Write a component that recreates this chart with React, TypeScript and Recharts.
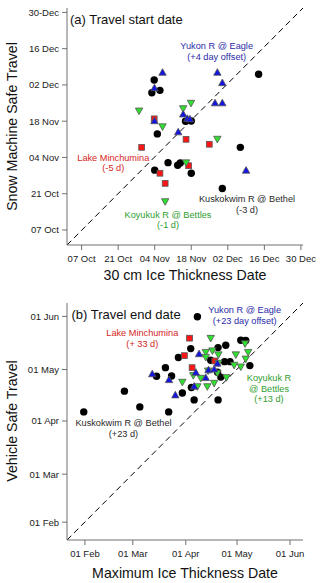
import React from "react";
import { ReferenceLine, Scatter, ScatterChart, XAxis, YAxis } from "recharts";

// (a) days counted from 30 Sep (1 Oct = 1); (b) day of year (1 Jan = 1)
const startTicks = [7, 21, 35, 49, 63, 77, 91];
const startXLabels = ["07 Oct", "21 Oct", "04 Nov", "18 Nov", "02 Dec", "16 Dec", "30 Dec"];
const startYLabels = ["07 Oct", "21 Oct", "04 Nov", "18 Nov", "02 Dec", "16 Dec", "30-Dec"];

const endTicks = [32, 60, 91, 121, 152];
const endLabels = ["01 Feb", "01 Mar", "01 Apr", "01 May", "01 Jun"];

const kuskokwimStart: [number, number][] = [
  [74.8, 67.1], [34.8, 64.9], [37, 60.9], [33.9, 60], [46.8, 49], [49, 49.1],
  [36, 44.1], [67.8, 38.9], [40.1, 33], [35, 30.1], [43.8, 32], [44.8, 32.9],
  [49, 28.9], [60.9, 23],
];
const minchuminaStart: [number, number][] = [
  [34.8, 49.9], [47, 42], [55.9, 40.1], [30, 38.9], [37, 28.9], [48, 31.8], [39, 25],
];
const koyukukStart: [number, number][] = [
  [29, 52.8], [48.9, 55.8], [45.9, 53.7], [38, 46.7], [59, 41.9], [47, 32.8], [39, 17.8],
];
const yukonStart: [number, number][] = [
  [38, 68], [59, 68], [60.9, 64], [34.9, 62], [58.1, 56.2], [60.9, 56.2],
  [45.9, 51.9], [34.9, 49.3], [47.5, 50.2], [48.5, 50], [44, 45], [70, 30.2],
];

const kuskokwimEnd: [number, number][] = [
  [97.8, 151.8], [123.2, 138.1], [126.1, 138], [114.4, 135.2], [93.9, 133.2],
  [109.9, 133.8], [86.7, 128], [79.1, 122.1], [105.6, 126.4], [113.7, 125.6],
  [116.9, 125.6], [128.5, 123.3], [111.5, 116.6], [109.6, 119.4], [82.7, 117.2],
  [73.9, 117.1], [94.3, 110.5], [89, 107.3], [55.1, 108.4], [95.9, 103.3],
  [109.9, 103.3], [64.1, 99.2], [81, 96.3], [31.3, 96.3],
];
const minchuminaEnd: [number, number][] = [
  [93.2, 139.3], [90.2, 129.1], [108, 126], [94.7, 122.1],
];
const koyukukEnd: [number, number][] = [
  [105.6, 139], [125.7, 135.8], [106.6, 131.7], [102.7, 130.8], [110.1, 129.4],
  [120.3, 129.4], [127.5, 130.8], [102.7, 127.9], [110.1, 124.5], [119.3, 123.3],
  [123.2, 122.3], [104.1, 120], [109.5, 118.7], [95.4, 117.3], [99.8, 115.7],
  [114.8, 116.1], [89, 113.4], [97.8, 110.8], [103.6, 110.8], [107.6, 112.8],
  [126.1, 126.9],
];
const yukonEnd: [number, number][] = [
  [98.8, 130.4], [96.9, 119.6], [104.3, 121], [107.6, 121.5], [102.7, 116.5],
  [95.9, 111.5], [71.4, 118.7], [81.2, 115.3], [84.9, 106.4], [109.5, 124.9],
];

const FONT = '"Liberation Sans", Arial, Helvetica, sans-serif';
const FRAME = "#707070";
const toPts = (arr: [number, number][]) => arr.map(([x, y]) => ({ x, y }));

function Dot(p: any) {
  return <circle cx={p.cx} cy={p.cy} r={3.7} fill="#000" />;
}
function Square(p: any) {
  const s = 5.8;
  return (
    <rect x={p.cx - s / 2} y={p.cy - s / 2} width={s} height={s} fill="#ff1515" stroke="#555" strokeWidth={0.8} />
  );
}
function TriUp(p: any) {
  const w = 7.4;
  const h = 6.6;
  return (
    <path
      d={`M${p.cx - w / 2},${p.cy + h / 2}L${p.cx + w / 2},${p.cy + h / 2}L${p.cx},${p.cy - h / 2}Z`}
      fill="#1414e0"
      stroke="#555"
      strokeWidth={0.8}
    />
  );
}
function TriDown(p: any) {
  const w = 7.4;
  const h = 6.6;
  return (
    <path
      d={`M${p.cx - w / 2},${p.cy - h / 2}L${p.cx + w / 2},${p.cy - h / 2}L${p.cx},${p.cy + h / 2}Z`}
      fill="#30e030"
      stroke="#555"
      strokeWidth={0.8}
    />
  );
}

type PanelProps = {
  height: number;
  top: number;
  xDomain: [number, number];
  yDomain: [number, number];
  ticks: number[];
  xLabels: string[];
  yLabels: string[];
  series: [number, number][][];
};

function Panel({ height, top, xDomain, yDomain, ticks, xLabels, yLabels, series }: PanelProps) {
  const tickStyle = { fill: "#222", fontSize: 9.5, fontFamily: FONT };
  const fmt = (labels: string[]) => (v: number) => labels[ticks.indexOf(v)] ?? "";
  const [kusk, minch, koyu, yuk] = series;
  return (
    <ScatterChart
      width={320}
      height={height}
      margin={{ top, right: 17, bottom: height - top - 237 - 30, left: 0 }}
    >
      <XAxis
        xAxisId="b"
        type="number"
        dataKey="x"
        domain={xDomain}
        allowDataOverflow
        ticks={ticks}
        tickFormatter={fmt(xLabels)}
        tick={tickStyle}
        height={30}
        tickSize={5}
        tickMargin={5}
        stroke={FRAME}
      />
      <XAxis
        xAxisId="t"
        orientation="top"
        type="number"
        domain={xDomain}
        allowDataOverflow
        ticks={ticks}
        tick={false}
        height={0}
        tickSize={5}
        stroke={FRAME}
      />
      <YAxis
        yAxisId="l"
        type="number"
        dataKey="y"
        domain={yDomain}
        allowDataOverflow
        ticks={ticks}
        tickFormatter={fmt(yLabels)}
        tick={tickStyle}
        width={67}
        tickSize={5}
        tickMargin={3}
        stroke={FRAME}
      />
      <YAxis
        yAxisId="r"
        orientation="right"
        type="number"
        domain={yDomain}
        allowDataOverflow
        ticks={ticks}
        tick={false}
        width={0}
        tickSize={5}
        stroke={FRAME}
      />
      <ReferenceLine
        xAxisId="b"
        yAxisId="l"
        segment={[
          { x: xDomain[0], y: yDomain[0] },
          { x: xDomain[1], y: yDomain[1] },
        ]}
        stroke="#000"
        strokeWidth={1}
        strokeDasharray="6 4"
        ifOverflow="visible"
      />
      <Scatter xAxisId="b" yAxisId="l" data={toPts(kusk)} shape={Dot} isAnimationActive={false} />
      <Scatter xAxisId="b" yAxisId="l" data={toPts(minch)} shape={Square} isAnimationActive={false} />
      <Scatter xAxisId="b" yAxisId="l" data={toPts(koyu)} shape={TriDown} isAnimationActive={false} />
      <Scatter xAxisId="b" yAxisId="l" data={toPts(yuk)} shape={TriUp} isAnimationActive={false} />
    </ScatterChart>
  );
}

const BLUE = "#2a2aa8";
const RED = "#d42424";
const GREEN = "#2f9e2f";
const DARK = "#2a2a2a";

function Note({ x, y, color, lines, size = 9.2 }: { x: number; y: number; color: string; lines: string[]; size?: number }) {
  return (
    <>
      {lines.map((t, i) => (
        <text key={i} x={x} y={y + i * 10.5} fill={color} fontSize={size} textAnchor="middle" fontFamily={FONT}>
          {t}
        </text>
      ))}
    </>
  );
}

export default function App() {
  return (
    <div style={{ position: "absolute", left: 0, top: 0, width: 320, height: 583, background: "#fff" }}>
      <div style={{ position: "absolute", left: 0, top: 0 }}>
        <Panel
          height={290}
          top={8}
          xDomain={[1.4, 91.8]}
          yDomain={[1.2, 92.7]}
          ticks={startTicks}
          xLabels={startXLabels}
          yLabels={startYLabels}
          series={[kuskokwimStart, minchuminaStart, koyukukStart, yukonStart]}
        />
      </div>
      <div style={{ position: "absolute", left: 0, top: 290 }}>
        <Panel
          height={293}
          top={13}
          xDomain={[21.5, 159.6]}
          yDomain={[21.6, 159.8]}
          ticks={endTicks}
          xLabels={endLabels}
          yLabels={endLabels}
          series={[kuskokwimEnd, minchuminaEnd, koyukukEnd, yukonEnd]}
        />
      </div>
      <svg
        width={320}
        height={583}
        style={{ position: "absolute", left: 0, top: 0, pointerEvents: "none" }}
        fontFamily={FONT}
      >
        <text x={70} y={23.7} fontSize={13} fill="#111">(a) Travel start date</text>
        <text x={71.5} y={319} fontSize={13} fill="#111">(b) Travel end date</text>

        <text x={16.7} y={126.5} fontSize={14.2} fill="#111" textAnchor="middle" transform="rotate(-90 16.7 126.5)">
          Snow Machine Safe Travel
        </text>
        <text x={185} y={280} fontSize={14.2} fill="#111" textAnchor="middle">30 cm Ice Thickness Date</text>
        <text x={16.7} y={421} fontSize={14.2} fill="#111" textAnchor="middle" transform="rotate(-90 16.7 421)">
          Vehicle Safe Travel
        </text>
        <text x={185} y={578} fontSize={14.2} fill="#111" textAnchor="middle">Maximum Ice Thickness Date</text>

        <Note x={216.7} y={49.2} color={BLUE} lines={["Yukon R @ Eagle", "(+4 day offset)"]} />
        <Note x={113.3} y={160.5} color={RED} lines={["Lake Minchumina", "(-5 d)"]} />
        <Note x={247} y={202.3} color={DARK} lines={["Kuskokwim R @ Bethel", "(-3 d)"]} />
        <Note x={168} y={217.7} color={GREEN} lines={["Koyukuk R @ Bettles", "(-1 d)"]} />

        <Note x={244.7} y={313.3} color={BLUE} lines={["Yukon R @ Eagle", "(+23 day offset)"]} />
        <Note x={142.3} y={336} color={RED} lines={["Lake Minchumina", "(+ 33 d)"]} />
        <Note x={269} y={381.3} color={GREEN} lines={["Koyukuk R", "@ Bettles", "(+13 d)"]} />
        <Note x={123.5} y={426} color={DARK} lines={["Kuskokwim R @ Bethel", "(+23 d)"]} />
      </svg>
    </div>
  );
}
